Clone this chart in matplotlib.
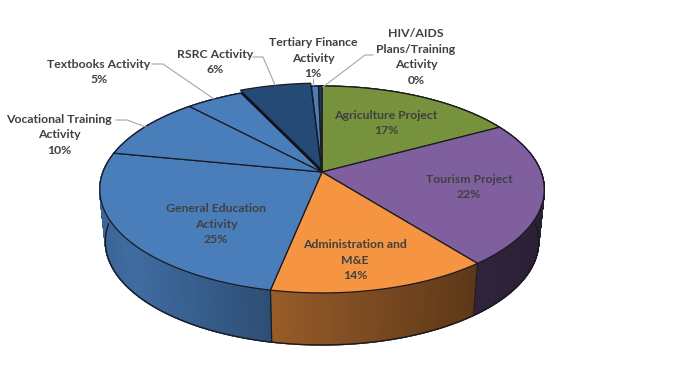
import numpy as np
import matplotlib
matplotlib.use("Agg")
import matplotlib.pyplot as plt
from matplotlib.collections import PolyCollection

categories = ["Agriculture Project", "Tourism Project", "Administration and\nM&E",
              "General Education\nActivity", "Vocational Training\nActivity", "Textbooks Activity",
              "RSRC Activity", "Tertiary Finance\nActivity", "HIV/AIDS\nPlans/Training\nActivity"]
values = [17.0, 22.45, 13.7, 24.95, 10.0, 4.9, 6.1, 0.6, 0.3]
colors = ["#76923C", "#7F5F9E", "#F59441", "#4A7EBB", "#4A7EBB", "#4A7EBB", "#264A76", "#4A7EBB", "#1F3864"]
exploded = [False, False, False, False, False, False, True, False, False]

CX, CY, R, B, K = 322.0, 172.0, 219.0, 100.5, 0.169
DEPTH, SHRINK = 52.0, 0.975
EDGE = "#1A1A22"
TEXT = "#404040"
LEADER = "#A6A6A6"

plt.rcParams["font.family"] = ["Lato", "DejaVu Sans"]
fig = plt.figure(figsize=(6.76, 3.76), dpi=100, facecolor="white")
ax = fig.add_axes([0, 0, 1, 1])
ax.set_xlim(0, 676)
ax.set_ylim(376, 0)
ax.axis("off")


def rim(theta):
    u, v = np.sin(theta), np.cos(theta)
    d = 1 + K * v
    return CX + R * u / d, CY - B * v / d


def lower(x, y):
    return CX + (x - CX) * SHRINK, y + DEPTH


def shade(x):
    return np.interp(x, [100, 130, 270, 475, 545], [0.80, 0.86, 0.62, 0.38, 0.33])


fractions = np.array(values) / sum(values)
edges = np.concatenate([[0], np.cumsum(fractions)]) * 2 * np.pi

# side wall: thin strips, painted with one shade per strip
quads, quad_colors = [], []
for i, col in enumerate(colors):
    if exploded[i]:
        continue
    n = max(2, int(values[i] * 25))
    th = np.linspace(edges[i], edges[i + 1], n + 1)
    xs, ys = rim(th)
    xb, yb = lower(xs, ys)
    base = np.array(matplotlib.colors.to_rgb(col))
    for j in range(n):
        quads.append([(xs[j], ys[j]), (xs[j + 1], ys[j + 1]), (xb[j + 1], yb[j + 1]), (xb[j], yb[j])])
        quad_colors.append(base * shade((xs[j] + xs[j + 1]) / 2))
ax.add_collection(PolyCollection(quads, facecolors=quad_colors, edgecolors=quad_colors, linewidths=1.0,
                                 joinstyle="round", zorder=1))

# lower outline and visible joints
th = np.linspace(np.pi / 2, 3 * np.pi / 2, 300)
xb, yb = lower(*rim(th))
ax.plot(xb, yb, color=EDGE, lw=1.0, zorder=2)
for i in range(len(values)):
    t = edges[i]
    if np.pi / 2 < t < 3 * np.pi / 2:
        x0, y0 = rim(t)
        x1, y1 = lower(x0, y0)
        ax.plot([x0, x1], [y0, y1], color=EDGE, lw=0.9, zorder=2)

# top faces
for i, col in enumerate(colors):
    n = max(2, int(values[i] * 8))
    th = np.linspace(edges[i], edges[i + 1], n + 1)
    xs, ys = rim(th)
    px = np.concatenate([[CX], xs])
    py = np.concatenate([[CY], ys])
    if exploded[i]:
        ax.fill(px, py, facecolor="#0B0F18", edgecolor="#0B0F18", lw=0.8, zorder=3)
        mid = (edges[i] + edges[i + 1]) / 2
        dx, dy = 3.0 * np.sin(mid), -3.0 * np.cos(mid)
        ax.fill(px + dx, py + dy, facecolor=col, edgecolor=EDGE, lw=0.9, zorder=4)
    else:
        ax.fill(px, py, facecolor=col, edgecolor=EDGE, lw=0.9, zorder=3)

# labels
inside_pos = {0: (386, 123), 1: (469, 187), 2: (355, 260), 3: (216, 224)}
outside_pos = {4: (59, 135), 5: (99, 72), 6: (215, 62), 7: (313, 58), 8: (416, 57)}
for i, name in enumerate(categories):
    pos = inside_pos.get(i, outside_pos.get(i))
    ax.text(pos[0], pos[1], f"{name}\n{round(values[i])}%", ha="center", va="center",
            fontsize=8.8, fontweight="bold", color=TEXT, linespacing=1.5, zorder=6)

# leader lines
leaders = [
    [(116, 120), (127, 120), (146, 127)],
    [(152, 64), (163, 64), (214, 99)],
    [(253, 57), (263, 57), (275, 85)],
    [(313, 79), (313, 85)],
    [(373, 55), (365, 55), (323, 87)],
]
for pts in leaders:
    lx, ly = zip(*pts)
    ax.plot(lx, ly, color=LEADER, lw=0.8, zorder=5)

fig.savefig("out.png", dpi=100, facecolor="white")
